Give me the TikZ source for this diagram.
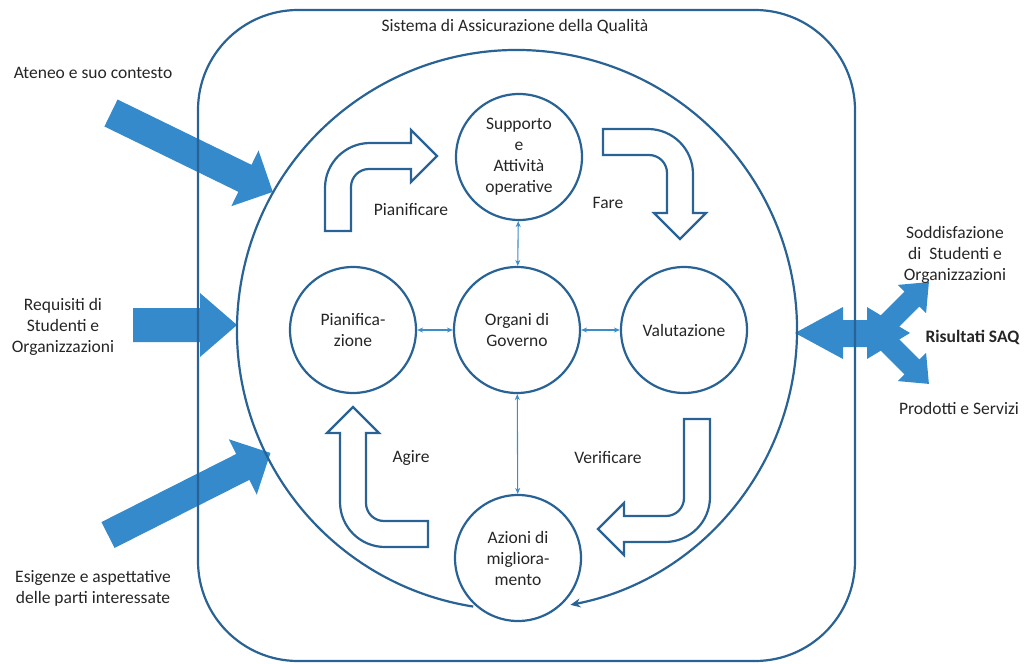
\documentclass[tikz,border=0pt]{standalone}
\usepackage{fontspec}
\setmainfont{Carlito}
\usepackage{tikz}
\usetikzlibrary{arrows.meta}

\definecolor{qline}{RGB}{41,98,148}
\definecolor{qfill}{RGB}{52,138,203}
\definecolor{qlink}{RGB}{62,140,200}
\definecolor{qtext}{RGB}{38,38,38}

% filled block arrow: tail, angle, length, shaft width, head width, head length
\newcommand{\blockarrow}[6]{%
	\path[fill=qfill, shift={#1}, rotate=#2] (0,-#4/2) -- (#3-#6,-#4/2) -- (#3-#6,-#5/2) -- (#3,0)
		-- (#3-#6,#5/2) -- (#3-#6,#4/2) -- (0,#4/2) -- cycle;}

% hollow bent arrow: tail corner, rotation, first leg, second leg
\newcommand{\bentarrow}[4]{%
	\path[draw=qline, line width=2.2pt, fill=white, shift={#1}, rotate=#2]
		(0,0) -- (0,#3-45) arc[start angle=180, end angle=90, radius=45]
		-- (#4-26,#3) -- (#4-26,#3+13) -- (#4,#3-13) -- (#4-26,#3-39) -- (#4-26,#3-26)
		-- (44,#3-26) arc[start angle=90, end angle=180, radius=18] -- (26,0) -- cycle;}

\begin{document}
\begin{tikzpicture}[x=1pt, y=1pt,
		every node/.style={text=qtext, font=\fontsize{17.5}{21}\selectfont, align=center},
		stage/.style={draw=qline, circle, line width=2.2pt, minimum size=126pt, inner sep=0pt},
		rel/.style={draw=qlink, line width=1.1pt, {Stealth[length=6pt,width=5pt]}-{Stealth[length=6pt,width=5pt]}},
		frame/.style={draw=qline, line width=2.2pt}]
		\useasboundingbox (0,0) rectangle (1029,-664);

		% inputs and outputs
		\coordinate (i1) at (111,-113);
		\coordinate (i2) at (133,-325);
		\coordinate (i3) at (108,-535);
		\coordinate (o1) at (878,-333);
		\blockarrow{(i1)}{-26}{180}{30}{62}{31}
		\blockarrow{(i2)}{0}{104}{34}{64}{37}
		\blockarrow{(i3)}{26.8}{182}{29}{62}{31}
		\blockarrow{(o1)}{45}{72}{21}{40}{24}
		\blockarrow{(o1)}{-45}{72}{21}{40}{24}
		\path[fill=qfill] (795,-333) -- (843,-307) -- (843,-320) -- (867,-320) -- (867,-307) -- (910,-333)
			-- (867,-359) -- (867,-347) -- (843,-347) -- (843,-359) -- cycle;

		\path[frame, rounded corners=100] (198,-10) rectangle (855,-661);

		\node[stage] (1) at (353,-330) {Pianifica-\\zione};
		\node[stage] (2) at (519,-157) {Supporto\\e\\Attività\\operative};
		\node[stage] (3) at (517,-330) {Organi di\\Governo};
		\node[stage] (4) at (684,-330) {Valutazione};
		\node[stage] (5) at (518,-558) {Azioni di\\migliora-\\mento};

		\path[frame, -{Stealth[length=10pt,width=9pt]}] ([shift={(261:280)}]3.center) arc[start angle=261, end angle=-79, radius=280];

		\path[rel] (1) -- (3);
		\path[rel] (3) -- (4);
		\path[rel] (2) -- (3);
		\path[rel] (3) -- (5);

		\bentarrow{(325,-231)}{0}{88}{112}
		\bentarrow{(603,-129)}{-90}{90}{110}
		\bentarrow{(710,-419)}{180}{123}{112}
		\bentarrow{(428,-547)}{90}{88}{140}

		\node (t0) at (515,-27) {Sistema di Assicurazione della Qualità};
		\node (t1) at (411,-210) {Pianificare};
		\node (t2) at (608,-203) {Fare};
		\node (t3) at (608,-458) {Verificare};
		\node (t4) at (411,-458) {Agire};
		\node (t5) at (93,-73) {Ateneo e suo contesto};
		\node (t6) at (63,-327) {Requisiti di\\Studenti e\\Organizzazioni};
		\node (t7) at (93,-588) {Esigenze e aspettative\\delle parti interessate};
		\node (t8) at (955,-255) {Soddisfazione\\di\ \ Studenti e\\Organizzazioni};
		\node[anchor=west, font=\fontsize{17.5}{21}\selectfont\bfseries] (t9) at (922,-337) {Risultati SAQ};
		\node (t10) at (959,-408) {Prodotti e Servizi};
\end{tikzpicture}
\end{document}
